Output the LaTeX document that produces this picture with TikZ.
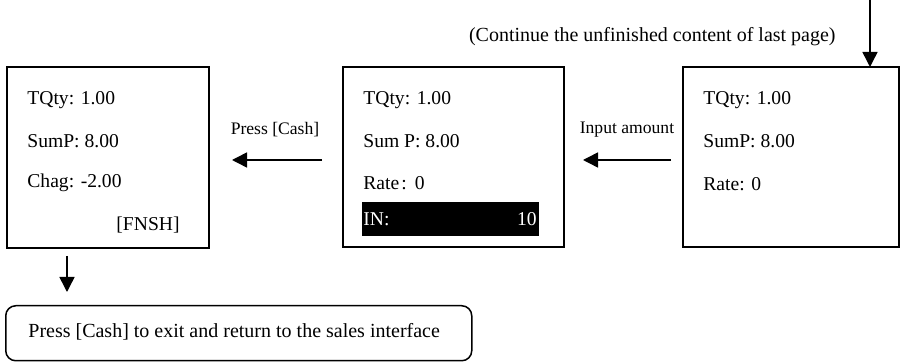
\documentclass[tikz,border=0pt]{standalone}
\usepackage{fontspec}
\setmainfont{Liberation Serif}
\usetikzlibrary{arrows.meta}
\begin{document}
\begin{tikzpicture}[x=0.5pt,y=-0.5pt,
  screen/.style={draw,line width=1pt,anchor=north west,inner sep=0pt,outer sep=0pt},
  txt/.style={anchor=west,inner sep=0pt,font=\fontsize{9.8}{11}\selectfont},
  lbl/.style={inner sep=0pt,font=\fontsize{8.8}{10}\selectfont},
  biglbl/.style={inner sep=0pt,font=\fontsize{10}{11}\selectfont},
  arr/.style={line width=0.75pt,-{Triangle[length=7.5pt,width=7.5pt]}}]
\useasboundingbox (0,0) rectangle (901,363);
% boxes
\node[screen,minimum width=101pt,minimum height=90.5pt] (b1) at (7,67) {};
\node[screen,minimum width=110.5pt,minimum height=90pt] (b2) at (343,67) {};
\node[screen,minimum width=108pt,minimum height=90pt] (b3) at (683,67) {};
% box 1 text
\node[txt] (t11) at (27,100) {TQty: 1.00};
\node[txt] (t12) at (27,141) {SumP: 8.00};
\node[txt] (t13) at (27,183) {Chag: -2.00};
\node[txt,anchor=east] (t14) at (180,225) {[FNSH]};
% box 2 text
\node[txt] (t21) at (363,100) {TQty: 1.00};
\node[txt] (t22) at (363,141) {Sum P: 8.00};
\node[txt] (t23) at (363,183) {Rate\kern1pt:\kern4pt0};
\node[fill=black,anchor=north west,inner sep=0pt,minimum width=88.5pt,minimum height=17pt] (bar) at (362,202) {};
\node[txt,text=white] (t24) at (363,219) {IN:};
\node[txt,text=white,anchor=east] (t25) at (537,219) {10};
% box 3 text
\node[txt] (t31) at (703,100) {TQty: 1.00};
\node[txt] (t32) at (703,141) {SumP: 8.00};
\node[txt] (t33) at (703,184) {Rate: 0};
% top note and arrow
\node[biglbl,anchor=east] (note) at (836,37) {(Continue the unfinished content of last page)};
\coordinate (topstart) at (870,0);
\coordinate (topend) at (870,67);
\draw[arr] (topstart) -- (topend);
% horizontal arrows
\coordinate (a3s) at (671,160);
\coordinate (a3e) at (583,160);
\draw[arr] (a3s) -- (a3e);
\node[lbl] (l3) at (627,130) {Input amount};
\coordinate (a2s) at (322,160);
\coordinate (a2e) at (232,160);
\draw[arr] (a2s) -- (a2e);
\node[lbl] (l2) at (275,130) {Press [Cash]};
% bottom
\node[draw,line width=0.75pt,rounded corners=5pt,anchor=north west,inner sep=0pt,minimum width=233pt,minimum height=27.5pt] (exitbox) at (5,305) {};
\node[biglbl,anchor=west] (exittxt) at (28,332) {Press [Cash] to exit and return to the sales interface};
\coordinate (dns) at (67,256);
\coordinate (dne) at (67,292);
\draw[arr] (dns) -- (dne);
\end{tikzpicture}
\end{document}
